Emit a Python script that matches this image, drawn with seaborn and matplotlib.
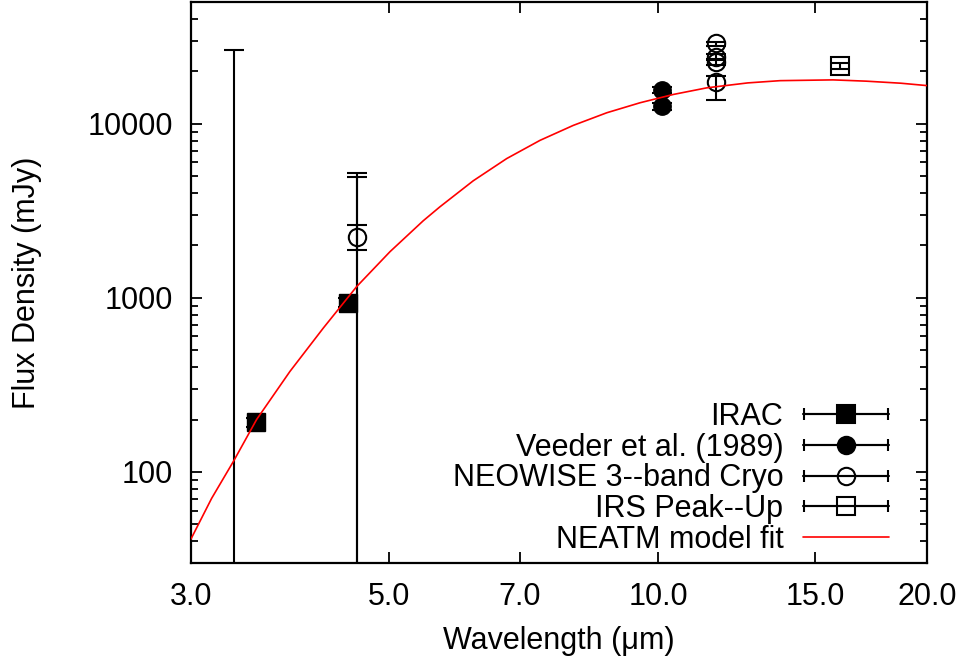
import matplotlib
matplotlib.use("Agg")
import matplotlib.pyplot as plt
import seaborn as sns
from matplotlib.lines import Line2D
from matplotlib.collections import LineCollection
from matplotlib.container import ErrorbarContainer
from matplotlib.legend_handler import HandlerErrorbar
from matplotlib.ticker import FixedLocator, NullLocator, LogLocator, NullFormatter

# IRAC (Spitzer warm mission)
irac_wl = [3.55, 4.50]
irac_flux = [193, 937]
irac_err = [12, 55]

# Veeder et al. (1989)
veeder_wl = [10.1, 10.1]
veeder_flux = [15640, 12610]
veeder_err = [700, 600]

# NEOWISE 3-band cryo; W1 and two W2 fluxes sit below the plot floor, only bars show
neowise_wl = [3.35, 4.6, 4.6, 4.6, 11.6, 11.6, 11.6, 11.6]
neowise_flux = [20, 2250, 20, 20, 28950, 24250, 22700, 17450]
neowise_lo = [1, 1875, 1, 1, 28030, 23300, 21800, 13710]
neowise_hi = [26500, 2625, 5225, 4912, 29650, 25200, 23600, 18880]

# IRS Peak-Up
irs_wl = [16.0]
irs_flux = [21440]
irs_err = [880]

# NEATM fit
model_wl = [3.0, 3.164, 3.349, 3.553, 3.872, 4.22, 4.599, 5.011, 5.459, 5.699,
            6.21, 6.769, 7.377, 8.037, 8.763, 9.546, 10.40, 11.34, 12.6, 13.7,
            15.7, 17.1, 18.7, 20.0]
model_flux = [41.2, 70.5, 115.6, 200, 378, 671, 1161, 1841, 2770, 3332,
              4700, 6304, 8025, 9779, 11560, 13190, 14720, 16070, 17150, 17670,
              17850, 17550, 17080, 16550]

x_ticks = [3.0, 5.0, 7.0, 10.0, 15.0, 20.0]
y_ticks = [100, 1000, 10000]

sns.set_style("ticks")
plt.rcParams['font.family'] = ['Liberation Sans', 'DejaVu Sans']
plt.rcParams['font.size'] = 22
plt.rcParams['text.color'] = 'k'
plt.rcParams['axes.labelcolor'] = 'k'
plt.rcParams['xtick.color'] = 'k'
plt.rcParams['ytick.color'] = 'k'

fig = plt.figure(figsize=(9.62, 6.63), dpi=100)
ax = fig.add_axes([0.1985, 0.1508, 0.7651, 0.8462])

lw = 1.5
ms = 12.5
eb = dict(ecolor='k', elinewidth=lw, capsize=7.5, capthick=lw, zorder=3)

ax.errorbar(irac_wl, irac_flux, yerr=irac_err, fmt='s', color='k', ms=ms, **eb)
ax.errorbar(veeder_wl, veeder_flux, yerr=veeder_err, fmt='o', color='k', ms=ms, **eb)
neo_yerr = [[f - lo for f, lo in zip(neowise_flux, neowise_lo)],
            [hi - f for f, hi in zip(neowise_flux, neowise_hi)]]
ax.errorbar(neowise_wl, neowise_flux, yerr=neo_yerr, fmt='o', color='k', ms=ms,
            mfc='none', mec='k', mew=lw, **eb)
ax.errorbar(irs_wl, irs_flux, yerr=irs_err, fmt='s', color='k', ms=ms,
            mfc='none', mec='k', mew=lw, **eb)

sns.lineplot(x=model_wl, y=model_flux, ax=ax, color='red', lw=1.2, zorder=5,
             sort=False, estimator=None)

ax.set_xscale('log')
ax.set_yscale('log')
ax.set_xlim(3.0, 20.0)
ax.set_ylim(30, 50000)

ax.xaxis.set_major_locator(FixedLocator(x_ticks))
ax.xaxis.set_minor_locator(NullLocator())
ax.set_xticklabels(['%.1f' % t for t in x_ticks])
ax.xaxis.set_minor_formatter(NullFormatter())
ax.yaxis.set_major_locator(FixedLocator(y_ticks))
ax.set_yticklabels([str(t) for t in y_ticks])
ax.yaxis.set_minor_locator(LogLocator(base=10, subs=range(2, 10)))
ax.yaxis.set_minor_formatter(NullFormatter())

ax.tick_params(which='both', direction='in', top=True, right=True, color='k', width=1.3)
ax.tick_params(which='major', length=8)
ax.tick_params(which='minor', length=5)
ax.tick_params(axis='y', which='major', pad=13)
ax.tick_params(axis='x', which='major', pad=14)
for s in ax.spines.values():
    s.set_linewidth(1.6)
    s.set_color('k')

ax.set_xlabel('Wavelength (μm)', labelpad=10)
ax.set_ylabel('Flux Density (mJy)')
ax.yaxis.set_label_coords(-0.2025, 0.5)


def err_handle(marker, fill):
    mk = Line2D([], [], color='k', lw=lw, marker=marker, ms=ms, mfc=fill, mec='k', mew=lw)
    cap = Line2D([], [], color='k', lw=lw, ms=8, mew=lw)
    bar = LineCollection([], colors='k', linewidths=lw)
    return ErrorbarContainer((mk, (cap, cap), (bar,)), has_xerr=True, has_yerr=False)


handles = [err_handle('s', 'k'), err_handle('o', 'k'), err_handle('o', 'none'),
           err_handle('s', 'none'), Line2D([], [], color='red', lw=1.2)]
labels = ['IRAC', 'Veeder et al. (1989)', 'NEOWISE 3--band Cryo', 'IRS Peak--Up',
          'NEATM model fit']
ax.legend(handles, labels, loc='lower right', bbox_to_anchor=(0.948, 0.015),
          frameon=False, markerfirst=False, handlelength=2.8, handletextpad=0.65,
          borderpad=0, borderaxespad=0, labelspacing=0.02, fontsize=22,
          handler_map={ErrorbarContainer: HandlerErrorbar(xerr_size=1.38)})

fig.savefig('out.png', dpi=100)
